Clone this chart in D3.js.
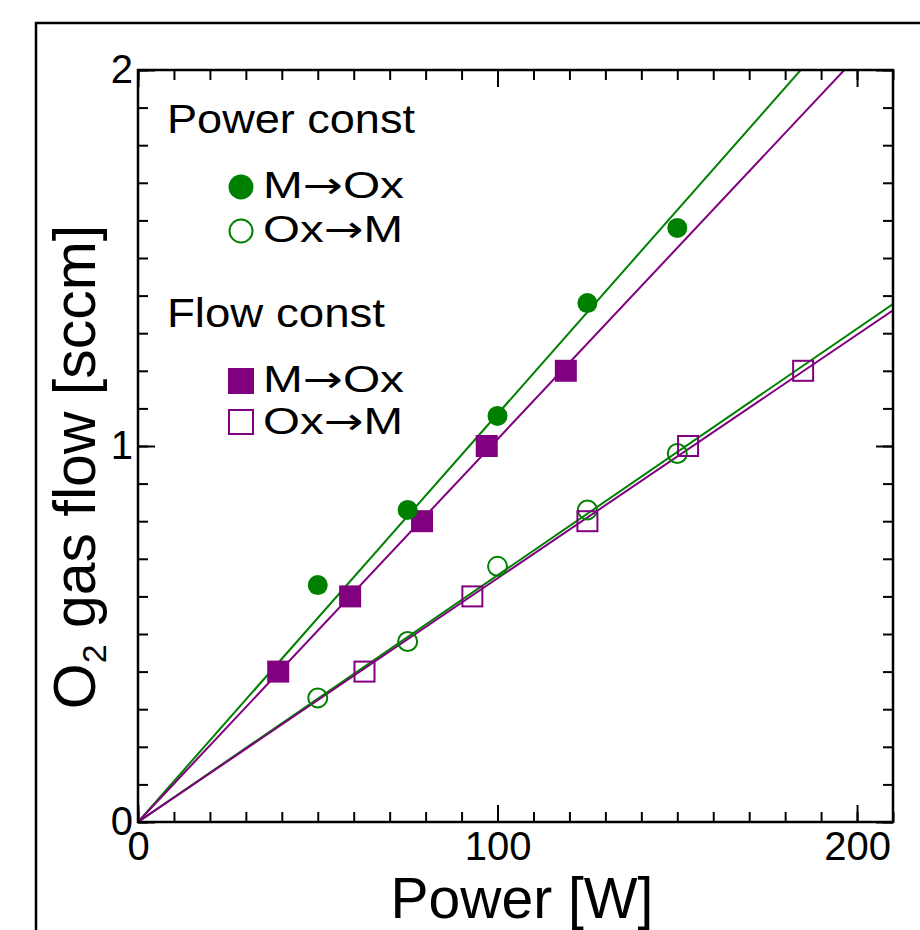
<!DOCTYPE html>
<html>
<head>
<meta charset="utf-8">
<script src="https://cdn.jsdelivr.net/npm/d3@7"></script>
<style>
	body { margin: 0; background: #fff; }
	svg { display: block; }
	text { font-family: "Liberation Sans", Arial, sans-serif; fill: #000; }
	.tick-label text { font-family: "Liberation Sans Narrow", "Liberation Sans", sans-serif; }
	.arrow { font-family: "DejaVu Sans", sans-serif; }
</style>
</head>
<body>
<svg width="920" height="930"></svg>
<script>
// Power const (circles, green)
var powerMOxX = [50, 75, 100, 125, 150];
var powerMOxY = [0.63, 0.83, 1.08, 1.38, 1.58];
var powerOxMX = [50, 75, 100, 125, 150];
var powerOxMY = [0.33, 0.48, 0.68, 0.83, 0.98];

// Flow const (squares, purple)
var flowMOxX = [39, 59, 79, 97, 119];
var flowMOxY = [0.40, 0.60, 0.80, 1.00, 1.20];
var flowOxMX = [63, 93, 125, 153, 185];
var flowOxMY = [0.40, 0.60, 0.80, 1.00, 1.20];

// fitted lines through origin, slope in sccm per W
var fitNames = ["powerMOx", "flowMOx", "powerOxM", "flowOxM"];
var fitSlopes = [0.01085, 0.01018, 0.00656, 0.00648];
var fitColors = ["#008000", "#800080", "#008000", "#800080"];

var xMajorTicks = [0, 100, 200];
var yMajorTicks = [0, 1, 2];

var GREEN = "#008000";
var PURPLE = "#800080";

drawChart();

function drawChart() {
	var svg = d3.select("svg");

	var left = 138, top = 70, right = 893, bottom = 822;
	var width = right - left;
	var height = bottom - top;

	var x = d3.scaleLinear().domain([0, 210]).range([0, width]);
	var y = d3.scaleLinear().domain([0, 2]).range([height, 0]);

	// outer figure frame (cut off at the window edge)
	svg.append("rect")
		.attr("x", 36)
		.attr("y", 23)
		.attr("width", 940)
		.attr("height", 960)
		.attr("fill", "none")
		.attr("stroke", "#000")
		.attr("stroke-width", 2.5);

	var g = svg.append("g")
		.attr("transform", "translate(" + left + "," + top + ")");

	g.append("clipPath")
		.attr("id", "plot-clip")
	  .append("rect")
		.attr("width", width)
		.attr("height", height);

	// minor ticks, every 10 W / 0.1 sccm, pointing inward on all four sides
	var xMinor = d3.range(0, 211, 10);
	var yMinor = d3.range(0, 21).map(function(d) { return d / 10; });

	g.append("g").attr("transform", "translate(0," + height + ")")
		.call(d3.axisBottom(x).tickValues(xMinor).tickSize(-10).tickFormat(""));
	g.append("g")
		.call(d3.axisTop(x).tickValues(xMinor).tickSize(-10).tickFormat(""));
	g.append("g")
		.call(d3.axisLeft(y).tickValues(yMinor).tickSize(-10).tickFormat(""));
	g.append("g").attr("transform", "translate(" + width + ",0)")
		.call(d3.axisRight(y).tickValues(yMinor).tickSize(-10).tickFormat(""));

	// major ticks with labels
	g.append("g").attr("class", "tick-label")
		.attr("transform", "translate(0," + height + ")")
		.call(d3.axisBottom(x).tickValues(xMajorTicks).tickSize(-17).tickPadding(10).tickFormat(d3.format("d")));
	g.append("g")
		.call(d3.axisTop(x).tickValues(xMajorTicks).tickSize(-17).tickFormat(""));
	g.append("g").attr("class", "tick-label")
		.call(d3.axisLeft(y).tickValues(yMajorTicks).tickSize(-17).tickPadding(5).tickFormat(d3.format("d")));
	g.append("g").attr("transform", "translate(" + width + ",0)")
		.call(d3.axisRight(y).tickValues(yMajorTicks).tickSize(-17).tickFormat(""));

	g.selectAll(".domain").remove();
	g.selectAll(".tick line").attr("stroke", "#000").attr("stroke-width", 2);
	g.selectAll(".tick-label text")
		.attr("font-size", 40)
		.attr("fill", "#000");

	// fit lines
	var fits = g.append("g").attr("clip-path", "url(#plot-clip)");
	fits.selectAll("line")
		.data(fitSlopes)
	  .enter().append("line")
		.attr("x1", x(0))
		.attr("y1", y(0))
		.attr("x2", function(d) { return x(210); })
		.attr("y2", function(d) { return y(d * 210); })
		.attr("stroke", function(d, i) { return fitColors[i]; })
		.attr("stroke-width", 2)
		.attr("class", function(d, i) { return "fit-" + fitNames[i]; });

	// markers
	drawCircles(g, powerOxMX, powerOxMY, x, y, false);
	drawSquares(g, flowOxMX, flowOxMY, x, y, false);
	drawSquares(g, flowMOxX, flowMOxY, x, y, true);
	drawCircles(g, powerMOxX, powerMOxY, x, y, true);

	// plot frame
	g.append("rect")
		.attr("width", width)
		.attr("height", height)
		.attr("fill", "none")
		.attr("stroke", "#000")
		.attr("stroke-width", 2.5);

	// legend
	var legend = svg.append("g").attr("class", "legend");
	legendTitle(legend, 167, 133, "Power const", 248);
	legend.append("circle").attr("cx", 241).attr("cy", 187).attr("r", 12.5).attr("fill", GREEN);
	legendEntry(legend, 263, 198, "M", "Ox", 141);
	legend.append("circle").attr("cx", 241).attr("cy", 231).attr("r", 11.5)
		.attr("fill", "#fff").attr("stroke", GREEN).attr("stroke-width", 2);
	legendEntry(legend, 263, 242, "Ox", "M", 140);

	legendTitle(legend, 167, 327, "Flow const", 218);
	legend.append("rect").attr("x", 228).attr("y", 368).attr("width", 26).attr("height", 26).attr("fill", PURPLE);
	legendEntry(legend, 263, 392, "M", "Ox", 141);
	legend.append("rect").attr("x", 229).attr("y", 410).attr("width", 24).attr("height", 24)
		.attr("fill", "#fff").attr("stroke", PURPLE).attr("stroke-width", 2);
	legendEntry(legend, 263, 434, "Ox", "M", 140);

	// axis titles
	svg.append("text")
		.attr("x", 522)
		.attr("y", 918)
		.attr("text-anchor", "middle")
		.attr("font-size", 57)
		.text("Power [W]");

	var yTitle = svg.append("text")
		.attr("transform", "translate(95," + 467 + ") rotate(-90)")
		.attr("text-anchor", "middle")
		.attr("font-size", 59);
	yTitle.append("tspan").text("O");
	yTitle.append("tspan").attr("font-size", 34).attr("dy", 11).text("2");
	yTitle.append("tspan").attr("dy", -11).text(" gas flow [sccm]");
}

function legendTitle(legend, tx, ty, label, len) {
	legend.append("text")
		.attr("x", tx)
		.attr("y", ty)
		.attr("font-size", 40)
		.attr("textLength", len)
		.attr("lengthAdjust", "spacingAndGlyphs")
		.text(label);
}

function legendEntry(legend, tx, ty, from, to, len) {
	var t = legend.append("text")
		.attr("x", tx)
		.attr("y", ty)
		.attr("font-size", 37)
		.attr("textLength", len)
		.attr("lengthAdjust", "spacingAndGlyphs");
	t.append("tspan").text(from);
	t.append("tspan").attr("class", "arrow").text("\u2192");
	t.append("tspan").text(to);
}

function drawCircles(g, xs, ys, x, y, filled) {
	g.append("g").selectAll("circle")
		.data(xs)
	  .enter().append("circle")
		.attr("cx", function(d) { return x(d); })
		.attr("cy", function(d, i) { return y(ys[i]); })
		.attr("r", filled ? 10 : 9.5)
		.attr("fill", filled ? GREEN : "none")
		.attr("stroke", filled ? "none" : GREEN)
		.attr("stroke-width", 2);
}

function drawSquares(g, xs, ys, x, y, filled) {
	var size = filled ? 22 : 20;
	g.append("g").selectAll("rect")
		.data(xs)
	  .enter().append("rect")
		.attr("x", function(d) { return x(d) - size / 2; })
		.attr("y", function(d, i) { return y(ys[i]) - size / 2; })
		.attr("width", size)
		.attr("height", size)
		.attr("fill", filled ? PURPLE : "none")
		.attr("stroke", filled ? "none" : PURPLE)
		.attr("stroke-width", 2);
}
</script>
</body>
</html>
